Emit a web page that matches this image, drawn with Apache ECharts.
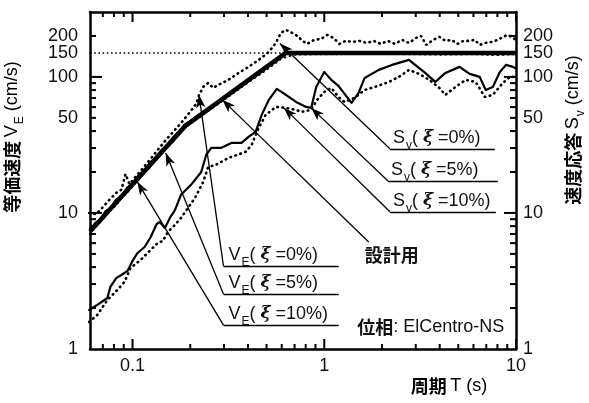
<!DOCTYPE html>
<html><head><meta charset="utf-8">
<script src="https://cdn.jsdelivr.net/npm/echarts@6/dist/echarts.min.js"></script>
<style>html,body{margin:0;padding:0;background:#fff}#c{width:589px;height:403px}</style>
</head><body><div id="c"></div>
<script>
// ---------- data ----------
const designT = [0.06, 0.188, 0.63, 10];
const designV = [7.3, 43.5, 150, 150];
const refT = [0.06, 0.63];
const refV = [150, 150];

const sv0T = [0.0594,0.0647,0.0695,0.0757,0.0834,0.0875,0.0919,0.0964,0.1025,0.1114,0.1229,0.1354,0.1493,0.1645,0.1811,0.1995,0.2146,0.2224,0.2336,0.2482,0.2637,0.2801,0.3162,0.3573,0.4027,0.4548,0.5138,0.5589,0.5943,0.631,0.6792,0.7387,0.757,0.814,0.886,0.964,1.037,1.115,1.199,1.29,1.404,1.528,1.664,1.811,1.971,2.146,2.336,2.542,2.768,3.013,3.202,3.401,3.702,3.981,4.285,4.605,4.951,5.324,5.733,6.084,6.467,6.952,7.474,8.038,8.547,9.077,9.644,10];
const sv0V = [10,9.8,10.9,12.5,14.3,14.8,19.3,16.3,18.1,20.7,24.5,29.1,34.4,40.1,46.7,55.3,63.3,73.8,84.4,90.3,83.0,87.3,95.1,107,118.5,133.3,152.6,177.8,210.7,221.6,210.7,196.8,187.2,174.9,187.2,190.3,203.6,193.6,174.9,183.9,180.8,183.9,177.8,183.9,174.9,183.9,174.9,187.2,177.8,193.6,200.1,171.8,187.2,196.8,183.9,187.2,174.9,183.9,183.9,187.2,171.8,177.8,180.8,187.2,196.8,203.6,193.6,187.2];

const sv5T = [0.0594,0.0616,0.0655,0.0739,0.0766,0.0824,0.0875,0.0941,0.1,0.1062,0.1156,0.1244,0.1337,0.1387,0.1474,0.1566,0.1664,0.1789,0.2018,0.2282,0.2421,0.2574,0.2904,0.3279,0.3703,0.4027,0.4385,0.4718,0.5138,0.5659,0.631,0.7128,0.8035,0.8545,0.9078,1.0,1.088,1.185,1.387,1.51,1.624,1.924,2.255,2.768,2.978,3.36,3.793,4.285,5.074,5.733,6.467,6.952,7.568,8.238,8.859,9.644,10];
const sv5V = [1.94,2.0,2.11,2.37,2.86,3.33,3.5,3.75,4.44,5.08,5.62,6.66,8.3,8.58,7.76,9.19,10.5,13.6,16.1,20.0,26.7,30.1,30.1,32.7,32.7,36.2,39.4,52.6,67.8,81.6,73.8,65.5,60.2,59.2,84.4,108.8,95.1,85.9,64.4,76.3,98.3,112.6,122.5,133.3,122.5,107,91.9,107,118.5,105.2,100,80.2,84.4,108.8,122.5,118.5,115];

const sv10T = [0.0594,0.0655,0.0739,0.0834,0.0908,0.0976,0.1101,0.1244,0.1354,0.1439,0.1528,0.1645,0.1789,0.2118,0.2336,0.2482,0.2702,0.3162,0.3883,0.4178,0.4548,0.4952,0.5589,0.631,0.7128,0.7568,0.8545,0.918,1.0,1.088,1.185,1.274,1.439,1.624,1.833,2.174,2.45,2.768,3.126,3.526,3.981,4.285,4.834,5.462,6.156,6.87,7.568,8.547,9.297,10];
const sv10V = [1.58,1.78,2.29,2.72,3.11,3.94,4.51,5.35,6.02,6.22,7.25,8.02,9.19,12.9,16.9,21.8,22.5,25.4,28.1,31.6,42.2,52.6,60.2,59.2,57.2,55.3,57.2,67.8,77.6,83.0,71.3,65.5,70.1,80.2,84.4,91.9,100,112.6,105.2,95.1,83.0,73.8,84.4,95.1,91.9,71.3,73.8,90.3,100,100];

const ve5T = [0.06,0.064,0.068,0.072,0.077,0.082,0.088,0.094,0.1,0.107,0.115,0.123,0.132,0.142,0.152,0.163,0.175,0.188,0.2,0.22,0.25,0.3,0.35,0.4,0.5,0.6,0.63,0.8,1,2,5,10];
const ve5V = [7.6,8.5,9.0,10.3,11.0,12.6,13.5,15.5,16.6,18.9,20.4,23.5,25.5,29.3,31.8,36.3,39.5,45.2,47.5,52.8,58.5,71.5,82,95,118,143,150,149,148,151,148,150];

const ve10T = [0.06,0.064,0.068,0.072,0.077,0.082,0.088,0.094,0.1,0.107,0.115,0.123,0.132,0.142,0.152,0.163,0.175,0.188,0.2,0.25,0.3,0.4,0.5,0.6,0.7,1,2,4,6,8,10];
const ve10V = [7.0,7.9,8.6,9.4,10.6,11.4,13.0,14.2,15.8,17.4,19.8,21.6,24.6,27.1,30.6,33.6,38.2,42.5,45.5,56.8,68,91,113,137,146,147,148,146,147,145,147];

// axis ticks / labels
const xLabels = [0.1, 1, 10];
const xMajor = [0.1, 1, 10];
const xMinor = [0.07,0.08,0.09,0.2,0.3,0.4,0.5,0.6,0.7,0.8,0.9,2,3,4,5,6,7,8,9];
const yLabels = [1, 10, 50, 100, 150];
const yLabelsTop = [200];
const yMajor = [10, 100];
const yMinor = [2,3,4,5,6,7,8,9,20,30,40,50,60,70,80,90,200];

// callouts
const calloutText = ['{m|S}{sub|v}{m|( }{xi|ξ}{m| =0%)}','{m|S}{sub|v}{m|( }{xi|ξ}{m| =5%)}','{m|S}{sub|v}{m|( }{xi|ξ}{m| =10%)}',
                     '{m|V}{sub|E}{m|( }{xi|ξ}{m| =0%)}','{m|V}{sub|E}{m|( }{xi|ξ}{m| =5%)}','{m|V}{sub|E}{m|( }{xi|ξ}{m| =10%)}'];
const tipT = [0.587, 0.855, 0.616, 0.222, 0.149, 0.106];
const tipV = [176, 59.2, 59.2, 73.8, 27.6, 16.9];
const cornerT = [2.20, 2.15, 2.20, 0.298, 0.298, 0.298];
const cornerV = [29.6, 17.2, 10.2, 4.08, 2.54, 1.50];
const endT = [7.75, 8.04, 7.85, 1.19, 1.19, 1.19];
const textIndent = [3, 3, 3, 5, 5, 5];
const designTip = [0.294, 67.8];
const designEnd = [1.705, 6.12];
const designLabelPos = [2.25, 4.83];
const phaseLabelPos = [3.59, 1.43];

// ---------- chart ----------
const F = '"Liberation Sans", Arial, Helvetica, sans-serif';
const CJK = '"Noto Sans CJK JP", sans-serif';
const INK = '#111';
const rich = {
  m: {fontFamily: F, fontSize: 18, color: INK, lineHeight: 20, verticalAlign: 'top'},
  sub: {fontFamily: F, fontSize: 12, color: INK, lineHeight: 20, verticalAlign: 'top', padding: [11, 0, 0, 1]},
  xi: {fontFamily: '"DejaVu Serif", serif', fontSize: 17, fontStyle: 'italic', fontWeight: 'bold', color: INK, lineHeight: 20, verticalAlign: 'top'},
  c: {fontFamily: CJK, fontSize: 18, fontWeight: 'bold', color: INK, lineHeight: 20, verticalAlign: 'top'}
};
const zip = (a, b) => a.map((v, i) => [v, b[i]]);
const fmt = v => (v < 1 ? String(+v.toPrecision(2)) : String(Math.round(v)));
const X0 = 0.06, X1 = 10, Y0 = 1, Y1 = 300;

function xAx(pos, labels) {
  return {
    type: 'log', min: X0, max: X1, position: pos,
    axisLine: {show: true, onZero: false, lineStyle: {color: '#000', width: 2.5}},
    axisTick: {show: false},
    axisLabel: labels ? {show: true, customValues: labels, formatter: fmt, fontFamily: F, fontSize: 18, color: INK, margin: 8} : {show: false},
    splitLine: {show: false}
  };
}
function yAx(pos, labels, margin, line) {
  return {
    type: 'log', min: Y0, max: Y1, position: pos,
    axisLine: {show: line, onZero: false, lineStyle: {color: '#000', width: 2.5}},
    axisTick: {show: false},
    axisLabel: {show: true, customValues: labels, formatter: fmt, fontFamily: F, fontSize: 18, color: INK, margin: margin},
    splitLine: {show: false}
  };
}

const mlData = [];
for (let i = 0; i < tipT.length; i++) {
  mlData.push([{coord: [cornerT[i], cornerV[i]]}, {coord: [tipT[i], tipV[i]], symbol: 'arrow', symbolSize: [7, 13]}]);
  mlData.push([{coord: [cornerT[i], cornerV[i]], label: {show: true, position: 'insideStartTop', formatter: calloutText[i], distance: [textIndent[i], 0], rich: rich}},
               {coord: [endT[i], cornerV[i]]}]);
}
mlData.push([{coord: designEnd}, {coord: designTip, symbol: 'arrow', symbolSize: [7, 13]}]);

const thin = w => ({color: '#000', width: w, type: 'solid', cap: 'round', join: 'round'});
const dotted = w => ({color: '#000', width: w, type: [0.6, 4.6], cap: 'round'});

const chart = echarts.init(document.getElementById('c'), null, {renderer: 'canvas'});
chart.setOption({
  animation: false,
  backgroundColor: '#fff',
  textStyle: {fontFamily: F},
  grid: {left: 90, right: 73, top: 12, bottom: 54, containLabel: false},
  xAxis: [xAx('bottom', xLabels), xAx('top', null)],
  yAxis: [yAx('left', yLabels, 12, true), yAx('left', yLabelsTop, 12, false), yAx('right', yLabels, 7, true), yAx('right', yLabelsTop, 7, false)],
  series: [
    {type: 'line', name: 'VE10', data: zip(ve10T, ve10V), symbol: 'none', silent: true, lineStyle: dotted(2.2), z: 3},
    {type: 'line', name: 'VE5', data: zip(ve5T, ve5V), symbol: 'none', silent: true, lineStyle: thin(1.6), z: 3},
    {type: 'line', name: 'Sv10', data: zip(sv10T, sv10V), symbol: 'none', silent: true, lineStyle: dotted(2.6), z: 3},
    {type: 'line', name: 'Sv5', data: zip(sv5T, sv5V), symbol: 'none', silent: true, lineStyle: thin(2.2), z: 3},
    {type: 'line', name: 'Sv0', data: zip(sv0T, sv0V), symbol: 'none', silent: true, lineStyle: dotted(2.6), z: 3},
    {type: 'line', name: 'design', data: zip(designT, designV), symbol: 'none', silent: true, lineStyle: {color: '#000', width: 4.6, join: 'round'}, z: 4},
    {type: 'line', name: 'ref150', data: zip(refT, refV), symbol: 'none', silent: true,
     lineStyle: {color: '#000', width: 1.6, type: [1.6, 2.6]}, z: 2,
     markLine: {silent: true, animation: false, symbol: ['none', 'none'], precision: 6,
       lineStyle: {color: '#000', width: 1.3, type: 'solid'}, label: {show: false},
       emphasis: {disabled: true}, data: mlData},
     markPoint: {silent: true, animation: false, symbol: 'circle', symbolSize: 1, itemStyle: {color: 'rgba(0,0,0,0)'},
       data: [
         {coord: designLabelPos, label: {show: true, position: 'inside', formatter: '{c|設計用}', rich: rich}},
         {coord: phaseLabelPos, label: {show: true, position: 'inside', formatter: '{c|位相}{m|: ElCentro-NS}', rich: rich}}
       ]}
    }
  ]
});

// inward tick marks, positioned through the axes' own scale (convertToPixel)
const toPx = (t, v) => chart.convertToPixel({xAxisIndex: 0, yAxisIndex: 0}, [t, v]);
const bl = toPx(X0, Y0), tr = toPx(X1, Y1);
const seg = (x1, y1, x2, y2) => ({type: 'line', silent: true, z: 50,
  shape: {x1: x1, y1: y1, x2: x2, y2: y2}, style: {stroke: '#000', lineWidth: 2}});
const els = [];
xMajor.concat(xMinor).forEach(t => {
  const x = toPx(t, Y0)[0];
  const L = xMajor.indexOf(t) >= 0 ? 10 : 5;
  els.push(seg(x, bl[1], x, bl[1] - L));
  els.push(seg(x, tr[1], x, tr[1] + L));
});
yMajor.concat(yMinor).forEach(v => {
  const y = toPx(X0, v)[1];
  const L = yMajor.indexOf(v) >= 0 ? 12 : 6;
  els.push(seg(bl[0], y, bl[0] + L, y));
  els.push(seg(tr[0], y, tr[0] - L, y));
});
els.push(
  {type: 'text', x: 13, y: 137, rotation: Math.PI / 2, silent: true,
   style: {text: '{c|等価速度} {m|V}{sub|E}{m| (cm/s)}', rich: rich, align: 'center', verticalAlign: 'middle'}},
  {type: 'text', x: 574, y: 130, rotation: Math.PI / 2, silent: true,
   style: {text: '{c|速度応答} {m|S}{sub|v}{m| (cm/s)}', rich: rich, align: 'center', verticalAlign: 'middle'}},
  {type: 'text', x: 449, y: 387, silent: true,
   style: {text: '{c|周期} {m|T (s)}', rich: rich, align: 'center', verticalAlign: 'middle'}}
);
chart.setOption({graphic: els});
</script>
</body></html>
